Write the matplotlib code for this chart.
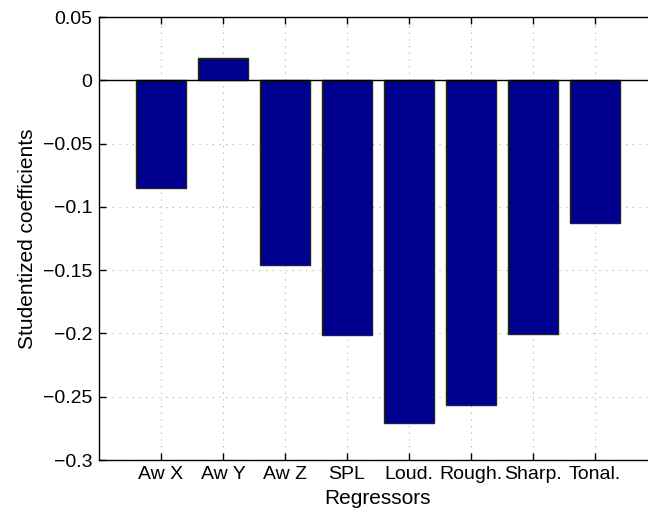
import matplotlib
matplotlib.use("Agg")
import matplotlib.pyplot as plt
import numpy as np

# Datos
regresores = ["Aw X", "Aw Y", "Aw Z", "SPL", "Loud.", "Rough.", "Sharp.", "Tonal."]
coeficientes = [-0.0854, 0.0174, -0.1458, -0.2014, -0.2711, -0.2566, -0.2004, -0.1131]
yticks = [0.05, 0, -0.05, -0.1, -0.15, -0.2, -0.25, -0.3]
ytick_labels = ["0.05", "0", "\u22120.05", "\u22120.1", "\u22120.15", "\u22120.2", "\u22120.25", "\u22120.3"]

plt.rcParams['font.family'] = ['Liberation Sans', 'DejaVu Sans']
FS = 14

fig = plt.figure(figsize=(6.48, 5.2), dpi=100)
# el eje se sale por la derecha, como en la figura original recortada
ax = fig.add_axes([99 / 648, 1 - 460 / 520, 558 / 648, (460 - 17) / 520])

x = np.arange(1, len(regresores) + 1)
ax.bar(x, coeficientes, width=0.8, color='#00008F', edgecolor='#222222', linewidth=1.0, zorder=3)
ax.axhline(0, color='black', linewidth=1.0, zorder=4)

ax.set_xlim(0, 9)
ax.set_ylim(-0.3, 0.05)
ax.set_xticks(x)
ax.set_xticklabels(regresores, fontsize=FS)
ax.set_yticks(yticks)
ax.set_yticklabels(ytick_labels, fontsize=FS)

ax.tick_params(axis='both', direction='in', length=5, width=1.0, top=True, right=False)
ax.tick_params(axis='x', pad=4)
ax.tick_params(axis='y', pad=5)
ax.grid(True, linestyle=(0, (1, 5)), color='#aaaaaa', linewidth=0.8, zorder=0)
ax.set_axisbelow(True)

for lado in ['left', 'bottom', 'top']:
    ax.spines[lado].set_linewidth(1.0)
ax.spines['right'].set_visible(False)

ax.set_xlabel("Regressors", fontsize=15, labelpad=5)
ax.set_ylabel("Studentized coefficients", fontsize=15, labelpad=4)

plt.savefig("out.png", dpi=100)
